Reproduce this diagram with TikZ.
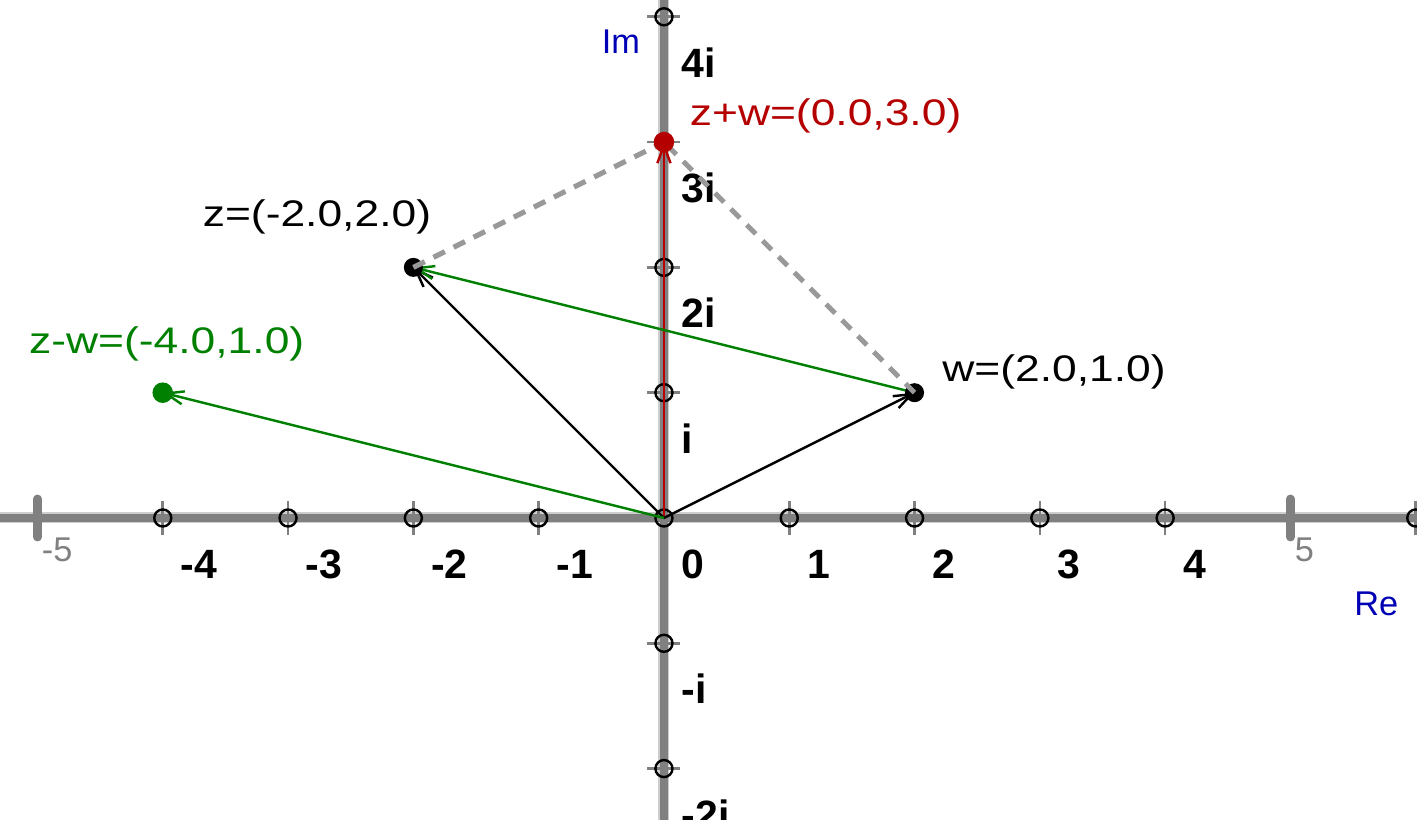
\documentclass[tikz,border=0pt]{standalone}
\usepackage{fontspec}
\setmainfont{Liberation Sans}
\newfontfamily\ptfont[FakeStretch=1.2]{Liberation Sans}
\usetikzlibrary{arrows.meta}
\definecolor{axisgray}{RGB}{128,128,128}
\definecolor{axislight}{RGB}{205,205,205}
\definecolor{dashgray}{RGB}{153,153,153}
\definecolor{ggred}{RGB}{180,0,0}
\definecolor{gggreen}{RGB}{0,128,0}
\definecolor{ggblue}{RGB}{0,0,180}
\begin{document}
\begin{tikzpicture}[
  axisline/.style={axisgray, line width=1.8pt},
  axisrim/.style={axislight, line width=2.5pt},
  minortick/.style={axisgray, line width=0.6pt},
  majortick/.style={axisgray, line width=2pt, line cap=round},
  gridpt/.style={black, line width=0.55pt},
  vec/.style={line width=0.55pt, -{Straight Barb[length=4pt,width=3pt]}},
  helper/.style={dashgray, line width=1.15pt, dash pattern=on 2.9pt off 2.2pt},
  ticklabel/.style={anchor=base west, inner sep=0pt, font=\fontsize{9.3}{11}\selectfont\bfseries},
  ptlabel/.style={anchor=base west, inner sep=0pt, font=\ptfont\fontsize{8.4}{10}\selectfont},
  axislabel/.style={anchor=base west, inner sep=0pt, font=\fontsize{7.8}{9}\selectfont}
]
  \useasboundingbox (-5.299,-2.410) rectangle (6.010,4.134);
  \clip (-5.299,-2.410) rectangle (6.010,4.134);
  % Axes
  \draw[axisrim] (-5.4,0) -- (6.1,0);
  \draw[axisrim] (0,-2.5) -- (0,4.2);
  \draw[axisline] (-5.4,0) -- (6.1,0);
  \draw[axisline] (0,-2.5) -- (0,4.2);
  \foreach \x in {-4,-3,-2,-1,0,1,2,3,4,6} {
    \draw[minortick] (\x,0.132) -- (\x,-0.132);
  }
  \foreach \y in {-2,-1,1,2,3,4} {
    \draw[minortick] (-0.132,\y) -- (0.132,\y);
  }
  \draw[majortick] (-5,0.152) -- (-5,-0.152);
  \draw[majortick] (5,0.152) -- (5,-0.152);
  \node[axislabel, axisgray] (mfive) at (-4.972,-0.351) {-5};
  \node[axislabel, axisgray] (pfive) at (5.028,-0.351) {5};
  % Tick labels
  \foreach \x [count=\i] in {-4,-3,-2,-1,0,1,2,3,4} {
    \node[ticklabel] (xl\i) at (\x+0.136,-0.483) {\x};
  }
  \foreach \y/\t [count=\i] in {1/i,2/2i,3/3i,4/4i,-1/-i,-2/-2i} {
    \node[ticklabel] (yl\i) at (0.136,\y-0.483) {\t};
  }
  \node[axislabel, ggblue] (im) at (-0.503,3.709) {Im};
  \node[axislabel, ggblue] (re) at (5.503,-0.780) {Re};
  % Integer points
  \foreach \x in {-4,-3,-2,-1,0,1,2,3,4,6} {
    \draw[gridpt] (\x,0) circle (0.068);
  }
  \foreach \y in {-2,-1,1,2,4} {
    \draw[gridpt] (0,\y) circle (0.068);
  }
  % Vectors
  \coordinate (O) at (0,0);
  \coordinate (z) at (-2,2);
  \coordinate (w) at (2,1);
  \coordinate (s) at (0,3);
  \coordinate (d) at (-4,1);
  \draw[vec, ggred] (O) -- (s);
  \draw[vec] (O) -- (z);
  \draw[vec] (O) -- (w);
  \draw[vec, gggreen] (O) -- (d);
  \draw[vec, gggreen] (w) -- (z);
  \fill (z) circle (0.076);
  \fill (w) circle (0.076);
  % Parallelogram
  \draw[helper] (z) -- (s);
  \draw[helper] (w) -- (s);
  \fill[ggred] (s) circle (0.082);
  \fill[gggreen] (d) circle (0.082);
  % Labels
  \node[ptlabel] (zl) at (-3.687,2.325) {z=(-2.0,2.0)};
  \node[ptlabel] (wl) at (2.215,1.088) {w=(2.0,1.0)};
  \node[ptlabel, ggred] (sl) at (0.200,3.136) {z+w=(0.0,3.0)};
  \node[ptlabel, gggreen] (dl) at (-5.073,1.314) {z-w=(-4.0,1.0)};
\end{tikzpicture}
\end{document}
